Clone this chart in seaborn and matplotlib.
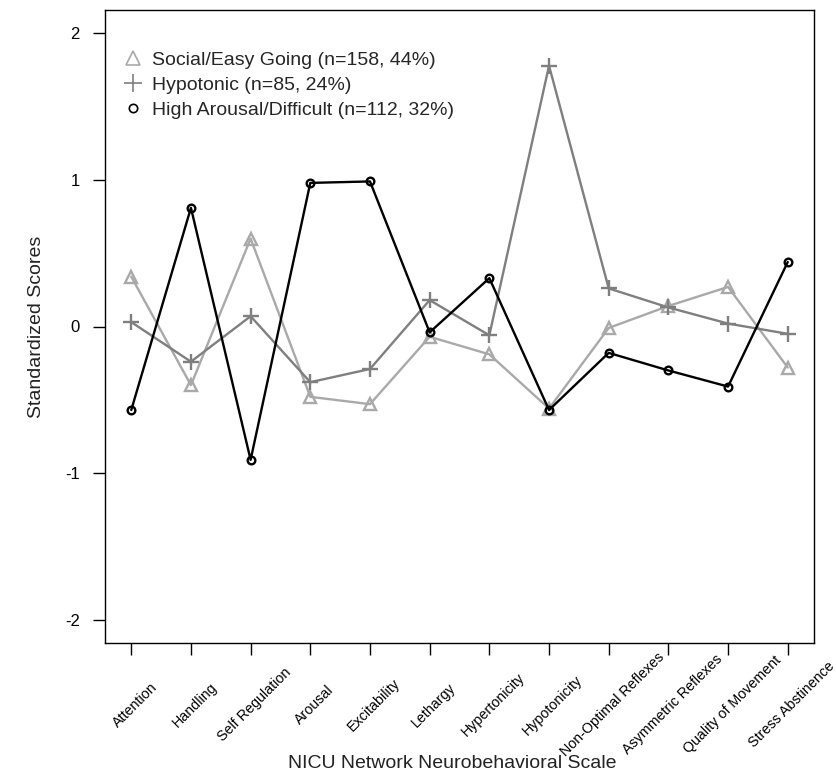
import numpy as np
import pandas as pd
import matplotlib
matplotlib.use("Agg")
import matplotlib.pyplot as plt
import matplotlib.transforms as mtransforms
from matplotlib.lines import Line2D
import seaborn as sns

scales = ["Attention", "Handling", "Self Regulation", "Arousal", "Excitability",
          "Lethargy", "Hypertonicity", "Hypotonicity", "Non-Optimal Reflexes",
          "Asymmetric Reflexes", "Quality of Movement", "Stress Abstinence"]

social = [0.34, -0.40, 0.60, -0.48, -0.53, -0.07, -0.19, -0.56, -0.01, 0.14, 0.27, -0.28]
hypotonic = [0.03, -0.24, 0.07, -0.38, -0.29, 0.18, -0.06, 1.78, 0.26, 0.13, 0.02, -0.05]
high_arousal = [-0.57, 0.81, -0.91, 0.98, 0.99, -0.04, 0.33, -0.57, -0.18, -0.30, -0.41, 0.44]

group_names = ["Social/Easy Going (n=158, 44%)", "Hypotonic (n=85, 24%)",
               "High Arousal/Difficult (n=112, 32%)"]
group_colors = ["#a9a9a9", "#7f7f7f", "#000000"]
group_markers = ["^", "+", "o"]
marker_sizes = [9, 12, 5.5]

df = pd.DataFrame({
    "scale": scales * 3,
    "score": social + hypotonic + high_arousal,
    "group": np.repeat(group_names, len(scales)),
})

sns.set_style("white")
plt.rcParams["font.family"] = ["Liberation Sans", "DejaVu Sans"]

fig = plt.figure(figsize=(8.37, 7.79), dpi=100)
ax = fig.add_axes([105 / 837, 1 - 643 / 779, 709 / 837, 633 / 779])

# one call per cluster so each keeps its own open marker
for name, col, mk, ms in zip(group_names, group_colors, group_markers, marker_sizes):
    sub = df[df["group"] == name]
    sns.lineplot(data=sub, x="scale", y="score", ax=ax, color=col, marker=mk,
                 markersize=ms, mfc="none", mec=col, mew=1.7, linewidth=1.7,
                 sort=False, legend=False)

ax.set_xlim(-0.44, len(scales) - 1 + 0.44)
ax.set_ylim(-2.16, 2.16)
ax.set_yticks([-2, -1, 0, 1, 2])
ax.set_yticklabels(["-2", "-1", "0", "1", "2"])
ax.set_xticks(range(len(scales)))
ax.set_xticklabels(scales, rotation=45, ha="center", va="center",
                   rotation_mode="anchor", fontsize=10.3)
ax.tick_params(axis="x", length=8.6, width=1, pad=36, colors="black")
ax.tick_params(axis="y", length=8.6, width=1, pad=9.4, labelsize=12, colors="black")
ax.tick_params(bottom=True, left=True)
shift = mtransforms.ScaledTranslation(4 / 100, 0, fig.dpi_scale_trans)
for lab in ax.get_xticklabels():
    lab.set_transform(lab.get_transform() + shift)

for sp in ax.spines.values():
    sp.set_color("black")
    sp.set_linewidth(1)

ax.set_xlabel("NICU Network Neurobehavioral Scale", fontsize=14, color="#222222")
ax.set_ylabel("Standardized Scores", fontsize=14, color="#222222")
ax.xaxis.set_label_coords(0.49, -0.177)
ax.yaxis.set_label_coords(-0.085, 0.5)

handles = [Line2D([], [], linestyle="none", marker=mk, markersize=ms, mfc="none",
                  mec=col, mew=1.2)
           for col, mk, ms in zip(group_colors, group_markers, [10, 13, 6])]
ax.legend(handles, group_names, loc="upper left", bbox_to_anchor=(0.007, 0.956),
          frameon=False, fontsize=14, handlelength=1.0, handletextpad=0.45,
          labelspacing=0.38, borderpad=0.2)

fig.savefig("out.png", dpi=100)
